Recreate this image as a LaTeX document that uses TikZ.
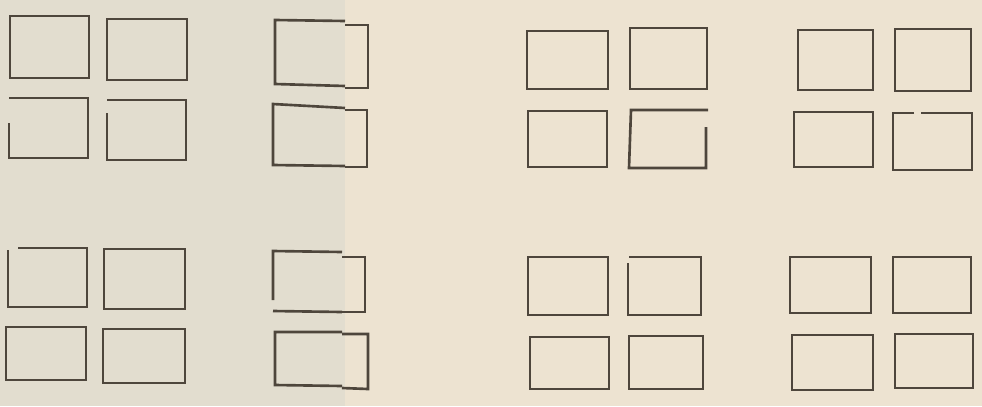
\documentclass[tikz,border=0pt]{standalone}
\usetikzlibrary{backgrounds}
\definecolor{ink}{RGB}{78,70,60}
\definecolor{leftpage}{RGB}{226,221,207}
\definecolor{rightpage}{RGB}{237,227,209}
\tikzset{
  pane/.style={draw=ink, line width=1.5pt, line join=miter},
}

\begin{document}
\begin{tikzpicture}[x=0.02cm,y=-0.02cm]
% paper (two sheets)
\fill[leftpage](0,0) rectangle (345,406);
\fill[rightpage](345,0) rectangle (982,406);
\useasboundingbox (0,0) rectangle (982,406);

% left sheet, four panes, top
\begin{scope}
\draw[pane](10,16) rectangle (89,78);
\draw[pane](107,19) rectangle (187,80);
\draw[pane](9,123) -- (9,158) -- (88,158) -- (88,98) -- (9,98);
\draw[pane](107,113) -- (107,160) -- (186,160) -- (186,100) -- (107,100);
\end{scope}

% left sheet, four panes, bottom
\begin{scope}
\draw[pane](18,248) -- (87,248) -- (87,307) -- (8,307) -- (8,250);
\draw[pane](104,249) rectangle (185,309);
\draw[pane](6,327) rectangle (86,380);
\draw[pane](103,329) rectangle (185,383);
\end{scope}

% folded panes across the seam
\begin{scope}
\draw[pane](345,21) -- (275,20) -- (275,84) -- (345,86);
\draw[pane](345,25) -- (368,25) -- (368,88) -- (345,88);
\draw[pane](345,108) -- (273,104) -- (273,165) -- (345,166);
\draw[pane](345,110) -- (367,110) -- (367,167) -- (345,167);
\draw[pane](342,252) -- (273,251) -- (273,300);
\draw[pane](273,311) -- (342,312);
\draw[pane](342,257) -- (365,257) -- (365,312) -- (342,312);
\draw[pane](342,332) -- (275,332) -- (275,385) -- (342,386);
\draw[pane](342,334) -- (368,334) -- (368,389) -- (342,388);
\end{scope}

% right sheet, first column of panes
\begin{scope}
\draw[pane](527,31) rectangle (608,89);
\draw[pane](630,28) -- (707,28) -- (707,89) -- (630,89) -- cycle;
\draw[pane](528,111) rectangle (607,167);
\draw[pane](706,127) -- (706,168) -- (629,168) -- (631,110) -- (708,110);
\draw[pane](528,257) rectangle (608,315);
\draw[pane](628,263) -- (628,315) -- (701,315) -- (701,257) -- (629,257);
\draw[pane](530,337) rectangle (609,389);
\draw[pane](629,336) rectangle (703,389);
\end{scope}

% right sheet, second column of panes
\begin{scope}
\draw[pane](798,30) rectangle (873,90);
\draw[pane](895,29) rectangle (971,91);
\draw[pane](794,112) rectangle (873,167);
\draw[pane](914,113) -- (893,113) -- (893,170) -- (972,170) -- (972,113) -- (921,113);
\draw[pane](790,257) rectangle (871,313);
\draw[pane](893,257) rectangle (971,313);
\draw[pane](792,335) rectangle (873,390);
\draw[pane](895,334) rectangle (973,388);
\end{scope}
\end{tikzpicture}
\end{document}
